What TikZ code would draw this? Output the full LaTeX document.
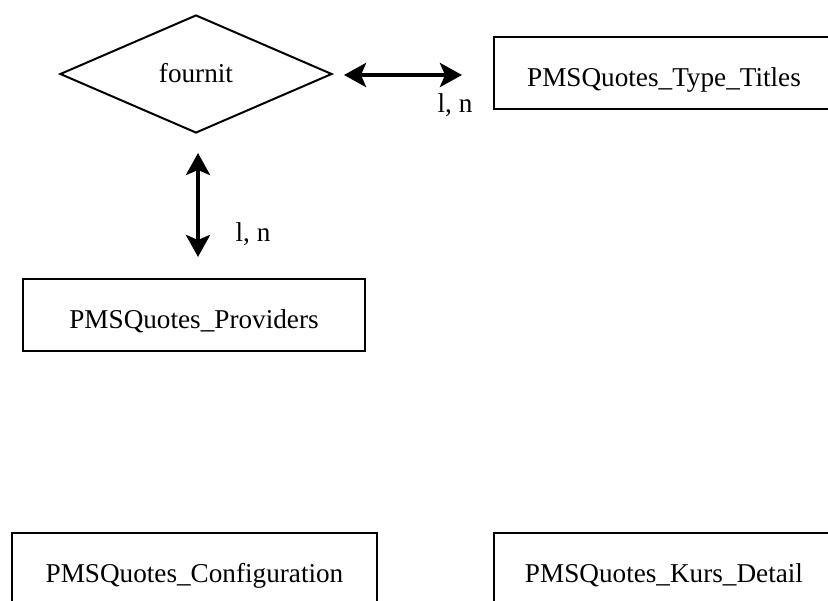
\documentclass[tikz,border=0pt]{standalone}
\usepackage{fontspec}
\setmainfont{Liberation Serif}
\usetikzlibrary{shapes.geometric,arrows.meta}
\begin{document}
\begin{tikzpicture}[x=1bp,y=-1bp,
  every node/.style={font=\fontsize{27.3}{32}\selectfont},
  entity/.style={draw,line width=2bp,rectangle,inner sep=0pt,minimum height=72bp,
    text height=26bp,text depth=0pt},
  relation/.style={draw,line width=2bp,diamond,aspect=2.3,inner sep=0pt,
    minimum width=272bp,minimum height=118bp,text height=18bp,text depth=0pt},
  tip/.style={Stealth[length=22bp,width=24bp,inset=5bp]},
  link/.style={line width=4bp,{Stealth[length=22bp,width=24bp,inset=5bp]}-{Stealth[length=22bp,width=24bp,inset=5bp]}},
  card/.style={inner sep=0pt,anchor=base}]
  \useasboundingbox (0,0) rectangle (828,601);
  \clip (0,0) rectangle (828,601);

  % relationship and entities
  \node[relation] (fournit) at (196,74) {fournit};
  \node[entity,minimum width=340bp] (titles) at (664,73.5) {PMSQuotes\_Type\_Titles};
  \node[entity,minimum width=342bp] (providers) at (194,315) {PMSQuotes\_Providers};
  \node[entity,minimum width=365bp] (config) at (194.5,569) {PMSQuotes\_Configuration};
  \node[entity,minimum width=340bp] (kurs) at (664,569) {PMSQuotes\_Kurs\_Detail};

  % fournit -- Type_Titles
  \coordinate (hleft) at ([yshift=-1bp]fournit.east);
  \coordinate (hright) at (titles.west |- hleft);
  \draw[link,shorten <=11bp,shorten >=31bp] (hleft) -- (hright);
  \node[card] (lnA) at (455,113) {l, n};

  % fournit -- Providers
  \coordinate (vtop) at ([xshift=2bp]fournit.south);
  \coordinate (vbot) at (vtop |- providers.north);
  \draw[link,shorten <=19bp,shorten >=21bp] (vtop) -- (vbot);
  \node[card] (lnB) at (253,242) {l, n};
\end{tikzpicture}
\end{document}
